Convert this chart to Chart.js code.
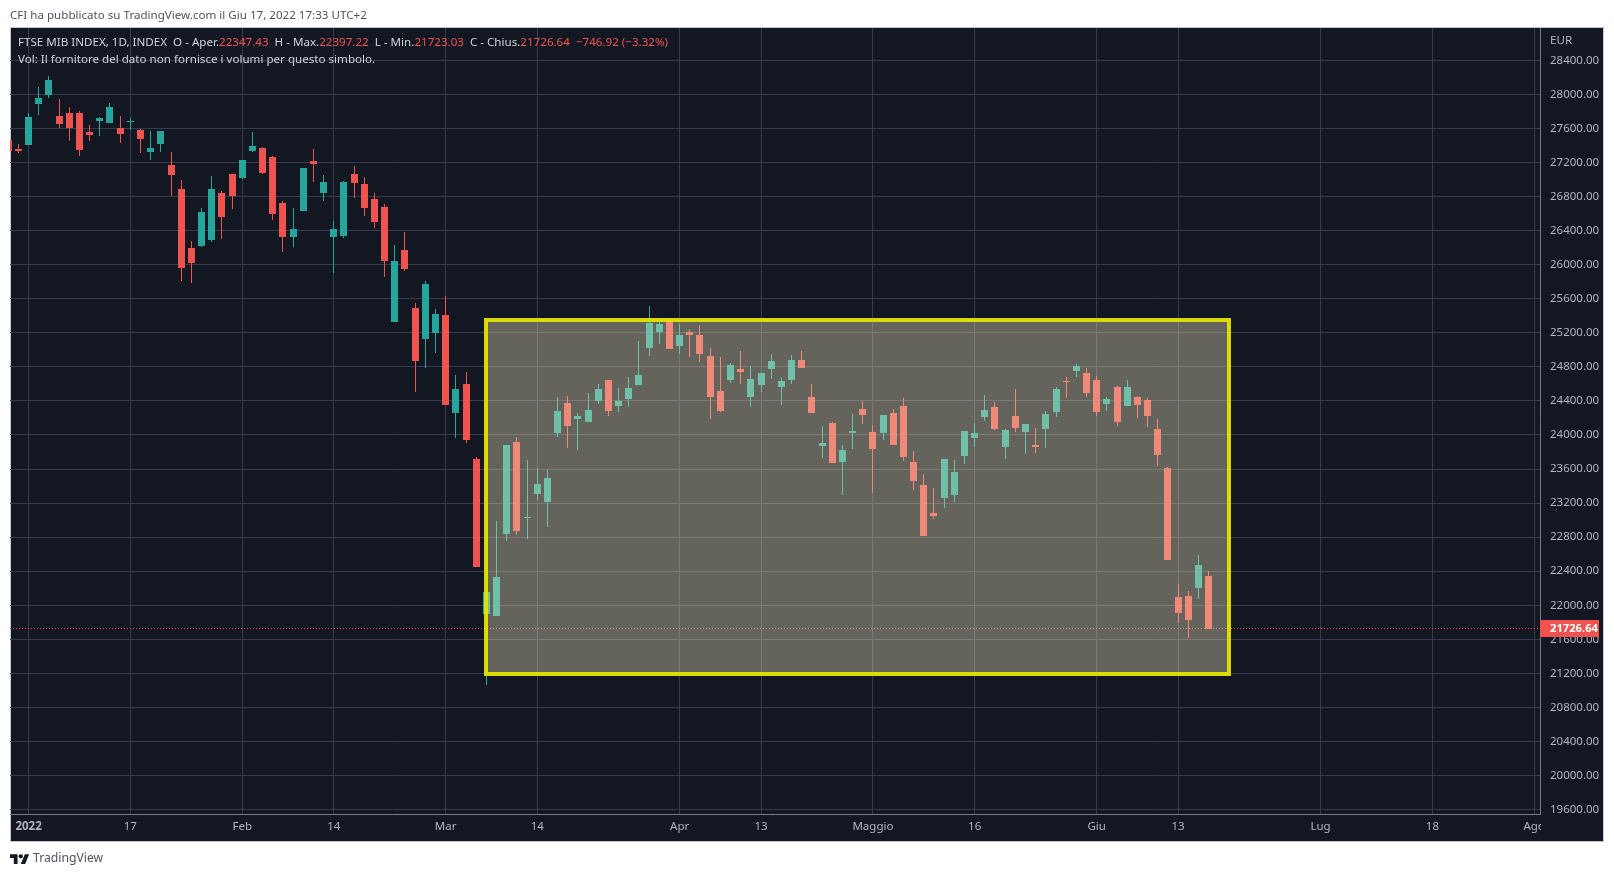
<!DOCTYPE html>
<html>
<head>
<meta charset="utf-8">
<title>FTSE MIB INDEX</title>
<script src="https://cdn.jsdelivr.net/npm/chart.js@4/dist/chart.umd.min.js"></script>
<style>
    html, body { margin: 0; padding: 0; background: #fff; overflow: hidden; }
    body { width: 1614px; height: 877px; position: relative; font-family: "Noto Sans", sans-serif; }
    canvas { position: absolute; left: 0; top: 0; }
    .txt { position: absolute; white-space: pre; font-size: 11.6px; line-height: 16px; }
    #published { left: 10px; top: 7px; color: #50535e; }
    #legend1 { left: 18px; top: 34px; color: #d1d4dc; }
    #legend2 { left: 18px; top: 51px; color: #d1d4dc; }
    #legend1 b { font-weight: normal; color: #ef5350; }
    #currency { left: 1550px; top: 32px; color: #b2b5be; }
    #brand { left: 33px; top: 849px; color: #50535e; font-size: 12.2px; line-height: 18px; }
    #logo { position: absolute; left: 10px; top: 852px; }
</style>
</head>
<body>
<canvas id="price-chart" width="1614" height="877"></canvas>
<div class="txt" id="published">CFI ha pubblicato su TradingView.com il Giu 17, 2022 17:33 UTC+2</div>
<div class="txt" id="legend1"></div>
<div class="txt" id="legend2">Vol: Il fornitore del dato non fornisce i volumi per questo simbolo.</div>
<div class="txt" id="currency">EUR</div>
<svg id="logo" width="19.44" height="11.88" viewBox="0 0 36 22"><path fill="#131722" d="M14 22H7V11H0V4h14v18zM28 22h-8l7.5-18h8L28 22z"/><circle fill="#131722" cx="20" cy="8" r="4"/></svg>
<div class="txt" id="brand">TradingView</div>

<script>
// daily sessions, the first two are partly cut off by the left edge
const opens = [27463,27357,27404,27886,27992,27745,27781,27781,27557,27687,27663,27604,27679,27581,27322,27416,27169,26887,26193,26217,26287,26840,27063,27016,27334,27369,27263,26722,26322,26628,27216,26840,26322,26334,27063,26946,26769,26675,25322,26170,25486,25122,25192,25404,24263,24593,23722,21900,21876,22840,23922,23028,23311,23217,24028,24381,24193,24157,24393,24640,24346,24428,24581,25016,25204,25333,25039,25204,25169,24922,24522,24651,24769,24451,24581,24769,24569,24651,24875,24440,23875,24146,23687,24028,24310,24040,24028,24263,24345,23687,23416,23087,23263,23299,23757,23969,24216,24334,23863,24228,24040,23887,24075,24275,24639,24757,24733,24651,24369,24569,24345,24451,24416,24075,23616,22099,22111,22205,22347.43];
const highs = [27480,27416,27777,28082,28216,27945,27851,27800,27640,27734,27898,27745,27722,27592,27569,27569,27322,26993,26275,26663,27040,26863,27063,27228,27557,27381,27275,26746,26663,27134,27357,27052,26511,26981,27157,27028,26840,26710,26228,26381,25545,25805,25475,25627,24710,24745,23746,22758,22993,23887,23981,23711,23616,23593,24451,24463,24263,24498,24593,24640,24557,24675,25098,25510,25357,25369,25298,25239,25286,25016,24910,24840,24981,24804,24722,24945,24675,24934,24981,24604,24110,24157,23887,24252,24404,24122,24239,24310,24439,23816,23546,23381,23722,23710,24051,24145,24475,24392,24075,24545,24134,24087,24286,24569,24675,24839,24792,24698,24451,24580,24651,24463,24439,24192,23628,22252,22170,22593,22397.22];
const lows = [27300,27310,27404,27757,27957,27604,27451,27275,27451,27510,27663,27428,27581,27310,27228,27322,26805,25805,25781,26205,26264,26299,26652,27004,27322,27063,26522,26146,26205,26628,26969,26746,25899,26311,26781,26569,26428,25852,25322,25923,24510,24792,24957,24357,23969,23910,22452,21065,21876,22758,22829,22781,23240,22923,23981,23852,23828,24157,24369,24228,24275,24334,24581,24922,25063,25004,24945,24910,24851,24193,24275,24616,24604,24334,24510,24663,24357,24604,24792,24263,23734,23675,23299,23840,24134,23322,23945,23887,23698,23357,22816,23016,23146,23216,23663,23863,24169,24063,23722,24040,23781,23793,23851,24216,24439,24675,24451,24228,24286,24110,24345,24204,24098,23640,22534,21793,21617,22076,21723.03];
const closes = [27334,27334,27734,27957,28169,27651,27604,27346,27522,27722,27851,27534,27687,27475,27369,27569,27052,25958,26017,26616,26887,26558,26805,27228,27393,27075,26593,26322,26416,27134,27181,26969,26416,26969,26957,26663,26499,26040,26040,25946,24863,25770,25416,24357,24534,23946,22452,22158,22335,23887,22876,23040,23428,23499,24287,24110,24228,24299,24534,24287,24404,24557,24710,25310,25298,25004,25169,25169,24945,24440,24287,24816,24734,24663,24722,24863,24628,24875,24792,24263,23910,23675,23828,24052,24239,23840,24239,23887,23746,23463,22816,23052,23722,23569,24051,24028,24298,24075,24063,24087,24134,23863,24251,24545,24631,24804,24498,24275,24428,24157,24569,24357,24228,23769,22534,21911,21829,22473.56,21726.64];
const firstSession = -2; // session number of opens[0], session 0 is the 2022 tick

const priceTicks = [28400,28000,27600,27200,26800,26400,26000,25600,25200,24800,24400,24000,23600,23200,22800,22400,22000,21600,21200,20800,20400,20000,19600];
const timeTicks = [0,10,21,30,41,50,64,72,83,93,105,113,127,138,148];
const timeLabels = ['2022','17','Feb','14','Mar','14','Apr','13','Maggio','16','Giu','13','Lug','18','Ago'];

const sessions = opens.map((o, i) => i + firstSession);
const lastIdx = closes.length - 1;
const upColor = '#26a69a';
const downColor = '#ef5350';
const panelColor = '#131722';
const gridColor = '#363c4e';
const axisColor = '#787b86';
const tickColor = '#b2b5be';
const fontFamily = '"Noto Sans", sans-serif';

// highlighted range, given in session numbers and prices
const zone = {from: 44.97, to: 118, top: 25352, bottom: 21195};

const barColors = closes.map((c, i) => c >= opens[i] ? upColor : downColor);

document.getElementById('legend1').innerHTML =
    'FTSE MIB INDEX, 1D, INDEX  O - Aper.<b>' + opens[lastIdx].toFixed(2) +
    '</b>  H - Max.<b>' + highs[lastIdx].toFixed(2) +
    '</b>  L - Min.<b>' + lows[lastIdx].toFixed(2) +
    '</b>  C - Chius.<b>' + closes[lastIdx].toFixed(2) +
    '  \u2212746.92 (\u22123.32%)</b>';

// Snap bars to whole pixels so wicks stay 1px wide and sharp
const snapBars = {
    id: 'snapBars',
    beforeDatasetsDraw(chart) {
        chart.getSortedVisibleDatasetMetas().forEach(meta => {
            meta.data.forEach(el => {
                el.x = Math.floor(el.x) + 0.5;
                el.y = Math.round(el.y);
                el.base = Math.round(el.base);
                if (el.base === el.y) el.base = el.y + 1;
            });
        });
    }
};

// Dark panel behind the whole chart, with its thin outline
const panel = {
    id: 'panel',
    beforeDraw(chart) {
        const ctx = chart.ctx;
        ctx.save();
        ctx.fillStyle = panelColor;
        ctx.fillRect(10, 27, 1594, 814);
        ctx.strokeStyle = '#c4c7cf';
        ctx.lineWidth = 1;
        ctx.strokeRect(10.5, 27.5, 1593, 814);
        ctx.restore();
    }
};

// Last price line plus the translucent range box on top of the candles
const overlays = {
    id: 'overlays',
    afterDatasetsDraw(chart) {
        const {ctx, scales: {x, y}, chartArea: area} = chart;
        const lastY = Math.floor(y.getPixelForValue(closes[lastIdx])) + 0.5;
        ctx.save();
        ctx.beginPath();
        ctx.rect(area.left, area.top, area.right - area.left, area.bottom - area.top);
        ctx.clip();

        ctx.strokeStyle = downColor;
        ctx.lineWidth = 1;
        ctx.setLineDash([1, 2]);
        ctx.beginPath();
        ctx.moveTo(area.left, lastY);
        ctx.lineTo(area.right, lastY);
        ctx.stroke();
        ctx.setLineDash([]);

        const left = Math.round(x.getPixelForValue(zone.from));
        const right = Math.round(x.getPixelForValue(zone.to));
        const top = Math.round(y.getPixelForValue(zone.top));
        const bottom = Math.round(y.getPixelForValue(zone.bottom));
        ctx.fillStyle = 'rgba(240, 232, 195, 0.37)';
        ctx.fillRect(left, top, right - left, bottom - top);
        ctx.strokeStyle = 'rgba(228, 228, 0, 0.95)';
        ctx.lineWidth = 4;
        ctx.strokeRect(left, top, right - left, bottom - top);
        ctx.restore();
    },
    afterDraw(chart) {
        const {ctx, scales: {y}, chartArea: area} = chart;
        // corner under the price axis hides the end of the last time label
        ctx.save();
        ctx.fillStyle = panelColor;
        ctx.fillRect(area.right + 1, area.bottom + 1, 1603 - area.right - 1, 841 - area.bottom - 1);

        const lastY = Math.floor(y.getPixelForValue(closes[lastIdx])) + 0.5;
        ctx.fillStyle = downColor;
        ctx.fillRect(area.right, lastY - 8.5, 59, 17);
        ctx.fillStyle = '#ffffff';
        ctx.font = 'bold 11.2px ' + fontFamily;
        ctx.textBaseline = 'middle';
        ctx.textAlign = 'left';
        ctx.fillText(closes[lastIdx].toFixed(2), area.right + 10, lastY);
        ctx.restore();
    }
};

new Chart(document.getElementById('price-chart'), {
    type: 'bar',
    data: {
        datasets: [{
            label: 'Wick',
            data: sessions.map((s, i) => ({x: s, y: [lows[i], highs[i]]})),
            backgroundColor: barColors,
            barThickness: 1,
            grouped: false,
            inflateAmount: 0
        }, {
            label: 'Body',
            data: sessions.map((s, i) => ({x: s, y: [opens[i], closes[i]]})),
            backgroundColor: barColors,
            barThickness: 7,
            grouped: false,
            inflateAmount: 0
        }]
    },
    options: {
        responsive: false,
        animation: false,
        devicePixelRatio: 1,
        layout: {padding: {left: 10, top: 28, right: 10, bottom: 36}},
        plugins: {legend: {display: false}, tooltip: {enabled: false}},
        scales: {
            x: {
                type: 'linear',
                offset: false,
                min: -1.829,
                max: 148.58,
                afterBuildTicks: scale => { scale.ticks = timeTicks.map(v => ({value: v})); },
                afterFit: scale => { scale.height = 27; },
                grid: {color: gridColor, drawTicks: false, offset: false},
                border: {color: axisColor},
                ticks: {
                    color: tickColor,
                    padding: 6,
                    maxRotation: 0,
                    autoSkip: false,
                    font: ctx => ({
                        family: fontFamily,
                        size: 11.5,
                        weight: ctx.tick && ctx.tick.value === 0 ? 'bold' : 'normal'
                    }),
                    callback: value => timeLabels[timeTicks.indexOf(value)]
                }
            },
            y: {
                position: 'right',
                min: 19549,
                max: 28779,
                afterBuildTicks: scale => { scale.ticks = priceTicks.map(v => ({value: v})); },
                afterFit: scale => { scale.width = 64; },
                grid: {color: gridColor, drawTicks: false},
                border: {color: axisColor},
                ticks: {
                    color: tickColor,
                    padding: 10,
                    font: {family: fontFamily, size: 11.5},
                    callback: value => value.toFixed(2)
                }
            }
        }
    },
    plugins: [panel, snapBars, overlays]
});
</script>
</body>
</html>
